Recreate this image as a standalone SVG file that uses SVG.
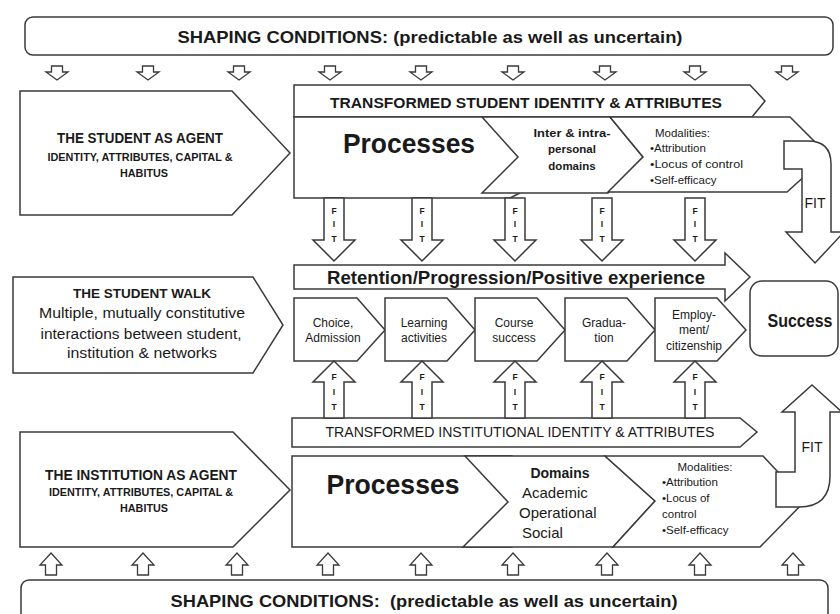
<svg xmlns="http://www.w3.org/2000/svg" width="840" height="614" viewBox="0 0 840 614">
<defs>
<style>
.s{fill:#fff;stroke:#3a3a3a;stroke-width:1.5;stroke-linejoin:miter}
.a{fill:#fff;stroke:#3a3a3a;stroke-width:1.3;stroke-linejoin:miter}
.t{font-family:"Liberation Sans",Arial,sans-serif;fill:#1a1a1a}
.b{font-weight:bold}
.m{text-anchor:middle}
.f{font-family:"Liberation Sans",Arial,sans-serif;font-weight:bold;font-size:8.5px;text-anchor:middle;fill:#1a1a1a}
</style>
</defs>
<rect width="840" height="614" fill="#fff"/>

<g id="shaping-top">
<rect class="s" x="25" y="17" width="808" height="38" rx="8"/>
<text class="t b m" x="430" y="43" font-size="17" textLength="505" lengthAdjust="spacingAndGlyphs">SHAPING CONDITIONS: (predictable as well as uncertain)</text>
</g>

<g id="shaping-bottom">
<rect class="s" x="21" y="580" width="807" height="50" rx="8"/>
<text class="t b m" x="424" y="607" font-size="17" textLength="507" lengthAdjust="spacingAndGlyphs" style="white-space:pre">SHAPING CONDITIONS:  (predictable as well as uncertain)</text>
</g>

<g id="student-agent">
<polygon class="s" points="20,91 232,91 290,153 232,215 20,215"/>
<text class="t b m" x="140" y="143" font-size="14" textLength="166" lengthAdjust="spacingAndGlyphs">THE STUDENT AS AGENT</text>
<text class="t b m" x="140" y="161" font-size="10" textLength="185" lengthAdjust="spacingAndGlyphs">IDENTITY, ATTRIBUTES, CAPITAL &amp;</text>
<text class="t b m" x="144" y="177" font-size="10" textLength="48" lengthAdjust="spacingAndGlyphs">HABITUS</text>
</g>

<g id="student-walk">
<polygon class="s" points="13,277 253,277 283,325 253,373 13,373"/>
<text class="t b m" x="142" y="298" font-size="13.5" textLength="138" lengthAdjust="spacingAndGlyphs">THE STUDENT WALK</text>
<text class="t m" x="142" y="318" font-size="14" textLength="206" lengthAdjust="spacingAndGlyphs">Multiple, mutually constitutive</text>
<text class="t m" x="141" y="339" font-size="14" textLength="201" lengthAdjust="spacingAndGlyphs">interactions between student,</text>
<text class="t m" x="142" y="358" font-size="14" textLength="150" lengthAdjust="spacingAndGlyphs">institution &amp; networks</text>
</g>

<g id="institution-agent">
<polygon class="s" points="20,432 233,432 290,490 233,547 20,547"/>
<text class="t b m" x="141" y="480" font-size="14" textLength="192" lengthAdjust="spacingAndGlyphs">THE INSTITUTION AS AGENT</text>
<text class="t b m" x="141" y="496" font-size="10" textLength="184" lengthAdjust="spacingAndGlyphs">IDENTITY, ATTRIBUTES, CAPITAL &amp;</text>
<text class="t b m" x="144" y="512" font-size="10" textLength="48" lengthAdjust="spacingAndGlyphs">HABITUS</text>
</g>

<g id="transformed-student">
<polygon class="s" points="294,85 750,85 765,101 752,117 294,117"/>
<text class="t b m" x="526" y="108" font-size="14.5" textLength="392" lengthAdjust="spacingAndGlyphs">TRANSFORMED STUDENT IDENTITY &amp; ATTRIBUTES</text>
</g>

<g id="student-processes">
<polygon class="s" points="294,117 520,117 520,193 510,198 294,198"/>
<text class="t b m" x="409" y="153" font-size="28" textLength="132" lengthAdjust="spacingAndGlyphs">Processes</text>
</g>

<g id="student-domains">
<polygon class="s" points="482,117 610,117 643,157 608,193 482,193 518,157"/>
<text class="t b m" x="572" y="137" font-size="11.5" textLength="77" lengthAdjust="spacingAndGlyphs">Inter &amp; intra-</text>
<text class="t b m" x="572" y="153" font-size="11.5">personal</text>
<text class="t b m" x="572" y="170" font-size="11.5">domains</text>
</g>

<g id="student-modalities">
<polygon class="s" points="610,117 790,117 828,155 787,192 608,192 643,157"/>
<text class="t" x="655" y="137" font-size="11.5">Modalities:</text>
<text class="t" x="650" y="152" font-size="11.5">•Attribution</text>
<text class="t" x="650" y="168" font-size="11.5" textLength="93" lengthAdjust="spacingAndGlyphs">•Locus of control</text>
<text class="t" x="650" y="184" font-size="11.5">•Self-efficacy</text>
</g>

<g id="retention">
<polygon class="s" points="294,265 725,265 725,253 750,277 725,301 725,289 294,289"/>
<text class="t b m" x="516" y="284" font-size="19" textLength="378" lengthAdjust="spacingAndGlyphs">Retention/Progression/Positive experience</text>
</g>

<g id="walk-choice">
<polygon class="s" points="294,298 357,298 385,330 357,361 294,361"/>
<text class="t m" x="333" y="327" font-size="12">Choice,</text>
<text class="t m" x="333" y="342" font-size="12">Admission</text>
</g>
<g id="walk-learning">
<polygon class="s" points="385,298 447,298 475,330 447,361 385,361"/>
<text class="t m" x="424" y="327" font-size="12">Learning</text>
<text class="t m" x="424" y="342" font-size="12">activities</text>
</g>
<g id="walk-course">
<polygon class="s" points="475,298 537,298 565,330 537,361 475,361"/>
<text class="t m" x="514" y="327" font-size="12">Course</text>
<text class="t m" x="514" y="342" font-size="12">success</text>
</g>
<g id="walk-graduation">
<polygon class="s" points="565,298 627,298 655,330 627,361 565,361"/>
<text class="t m" x="604" y="327" font-size="12">Gradua-</text>
<text class="t m" x="604" y="342" font-size="12">tion</text>
</g>
<g id="walk-employment">
<polygon class="s" points="655,298 717,298 746,330 717,361 655,361"/>
<text class="t m" x="694" y="319" font-size="12">Employ-</text>
<text class="t m" x="694" y="334" font-size="12">ment/</text>
<text class="t m" x="694" y="350" font-size="12">citizenship</text>
</g>

<g id="success">
<rect class="s" x="750" y="281" width="88" height="75" rx="12"/>
<text class="t b m" x="800" y="327" font-size="18" textLength="65" lengthAdjust="spacingAndGlyphs">Success</text>
</g>

<g id="transformed-institution">
<polygon class="s" points="292,418 740,418 757,432 740,447 292,447"/>
<text class="t m" x="520" y="437" font-size="14" textLength="389" lengthAdjust="spacingAndGlyphs">TRANSFORMED INSTITUTIONAL IDENTITY &amp; ATTRIBUTES</text>
</g>

<g id="institution-processes">
<polygon class="s" points="292,456 512,456 512,547 292,547"/>
<text class="t b m" x="393" y="494" font-size="28" textLength="133" lengthAdjust="spacingAndGlyphs">Processes</text>
</g>

<g id="institution-domains">
<polygon class="s" points="465,456 605,456 655,501 613,547 463,547 508,502"/>
<text class="t b m" x="560" y="478" font-size="14">Domains</text>
<text class="t" x="522" y="498" font-size="15">Academic</text>
<text class="t" x="519" y="518" font-size="15">Operational</text>
<text class="t" x="522" y="538" font-size="15">Social</text>
</g>

<g id="institution-modalities">
<polygon class="s" points="605,456 763,456 805,501 760,547 613,547 655,501"/>
<text class="t m" x="705" y="471" font-size="11.5">Modalities:</text>
<text class="t" x="662" y="486" font-size="11.5">•Attribution</text>
<text class="t" x="662" y="502" font-size="11.5">•Locus of</text>
<text class="t" x="662" y="518" font-size="11.5">control</text>
<text class="t" x="662" y="534" font-size="11.5">•Self-efficacy</text>
</g>

<g id="connectors">
<g id="shaping-down-arrows">
<path class="a" d="M51.5,66h11v6h5.5l-11,8l-11,-8h5.5z"/>
<path class="a" d="M142.5,66h11v6h5.5l-11,8l-11,-8h5.5z"/>
<path class="a" d="M233.5,66h11v6h5.5l-11,8l-11,-8h5.5z"/>
<path class="a" d="M324.5,66h11v6h5.5l-11,8l-11,-8h5.5z"/>
<path class="a" d="M415.5,66h11v6h5.5l-11,8l-11,-8h5.5z"/>
<path class="a" d="M507.5,66h11v6h5.5l-11,8l-11,-8h5.5z"/>
<path class="a" d="M599.5,66h11v6h5.5l-11,8l-11,-8h5.5z"/>
<path class="a" d="M689.5,66h11v6h5.5l-11,8l-11,-8h5.5z"/>
<path class="a" d="M781.5,66h11v6h5.5l-11,8l-11,-8h5.5z"/>
</g>
<g id="shaping-up-arrows">
<path class="a" d="M51,553l11,12h-5.5v10h-11v-10h-5.5z"/>
<path class="a" d="M143,553l11,12h-5.5v10h-11v-10h-5.5z"/>
<path class="a" d="M237,553l11,12h-5.5v10h-11v-10h-5.5z"/>
<path class="a" d="M328,553l11,12h-5.5v10h-11v-10h-5.5z"/>
<path class="a" d="M421,553l11,12h-5.5v10h-11v-10h-5.5z"/>
<path class="a" d="M513,553l11,12h-5.5v10h-11v-10h-5.5z"/>
<path class="a" d="M607,553l11,12h-5.5v10h-11v-10h-5.5z"/>
<path class="a" d="M700,553l11,12h-5.5v10h-11v-10h-5.5z"/>
<path class="a" d="M793,553l11,12h-5.5v10h-11v-10h-5.5z"/>
</g>
<g id="fit-down">
<path class="s" d="M324,198h20v42h11l-21,21l-21,-21h11z"/>
<text class="f" x="334" y="214">F</text><text class="f" x="334" y="227">I</text><text class="f" x="334" y="242">T</text>
<path class="s" d="M412,198h20v42h11l-21,21l-21,-21h11z"/>
<text class="f" x="422" y="214">F</text><text class="f" x="422" y="227">I</text><text class="f" x="422" y="242">T</text>
<path class="s" d="M505,198h20v42h11l-21,21l-21,-21h11z"/>
<text class="f" x="515" y="214">F</text><text class="f" x="515" y="227">I</text><text class="f" x="515" y="242">T</text>
<path class="s" d="M592,198h20v42h11l-21,21l-21,-21h11z"/>
<text class="f" x="602" y="214">F</text><text class="f" x="602" y="227">I</text><text class="f" x="602" y="242">T</text>
<path class="s" d="M685,198h20v42h11l-21,21l-21,-21h11z"/>
<text class="f" x="695" y="214">F</text><text class="f" x="695" y="227">I</text><text class="f" x="695" y="242">T</text>
</g>
<g id="fit-up">
<path class="s" d="M334,361l21,21h-11v36h-20v-36h-11z"/>
<text class="f" x="334" y="380">F</text><text class="f" x="334" y="395">I</text><text class="f" x="334" y="410">T</text>
<path class="s" d="M422,361l21,21h-11v36h-20v-36h-11z"/>
<text class="f" x="422" y="380">F</text><text class="f" x="422" y="395">I</text><text class="f" x="422" y="410">T</text>
<path class="s" d="M515,361l21,21h-11v36h-20v-36h-11z"/>
<text class="f" x="515" y="380">F</text><text class="f" x="515" y="395">I</text><text class="f" x="515" y="410">T</text>
<path class="s" d="M602,361l21,21h-11v36h-20v-36h-11z"/>
<text class="f" x="602" y="380">F</text><text class="f" x="602" y="395">I</text><text class="f" x="602" y="410">T</text>
<path class="s" d="M695,361l21,21h-11v36h-20v-36h-11z"/>
<text class="f" x="695" y="380">F</text><text class="f" x="695" y="395">I</text><text class="f" x="695" y="410">T</text>
</g>
<g id="fit-to-success">
<path class="s" d="M784,141L808,141Q831,141 831,164L831,232L844,232L815,263L786,232L802,232L802,169L784,169Z"/>
<text class="t m" x="815" y="208" font-size="14">FIT</text>
</g>
<g id="fit-from-institution">
<path class="s" d="M812,385L842,412L830,412L830,476Q830,507 799,507L776,507L776,472L795,472L795,412L782,412Z"/>
<text class="t m" x="812" y="452" font-size="14">FIT</text>
</g>
</g>
</svg>
